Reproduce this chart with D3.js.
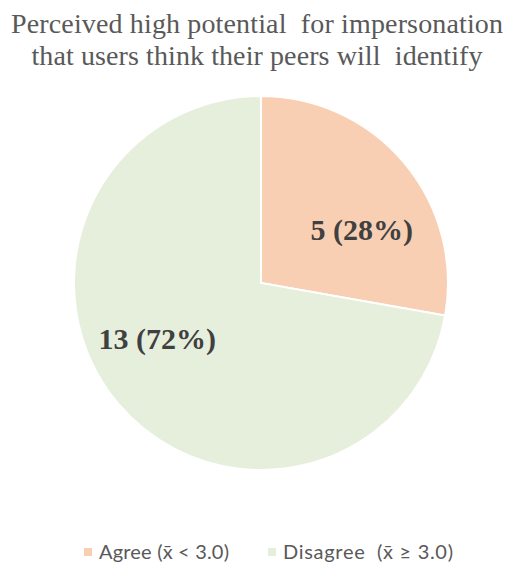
<!DOCTYPE html>
<html>
<head>
<meta charset="utf-8">
<script src="https://cdn.jsdelivr.net/npm/d3@7"></script>
<style>
  html, body { margin: 0; padding: 0; background: #ffffff; }
  svg { display: block; }
  .serif { font-family: "Liberation Serif", "Times New Roman", "DejaVu Serif", serif; }
  .sans { font-family: Lato, "Open Sans", "Liberation Sans", sans-serif; }
</style>
</head>
<body>
<div id="chart"></div>
<script>
// Survey responses split by mean score
const categories = ["Agree (x̄ < 3.0)", "Disagree  (x̄ ≥ 3.0)"];
const counts = [5, 13];
const sliceColors = ["#F8CFB2", "#E6EFDC"];
const titleLines = [
  "Perceived high potential  for impersonation",
  "that users think their peers will  identify"
];

const width = 508, height = 569;
const cx = 261, cy = 283, radius = 187;

const svg = d3.select("#chart").append("svg")
  .attr("width", width)
  .attr("height", height);

// Two-line title, each line stretched to its set width
const titleWidths = [492, 451];
svg.append("g")
  .selectAll("text")
  .data(titleLines)
  .join("text")
  .attr("class", "serif")
  .attr("x", 257)
  .attr("y", (d, i) => 33 + i * 32)
  .attr("text-anchor", "middle")
  .attr("font-size", 28)
  .attr("fill", "#595959")
  .attr("textLength", (d, i) => titleWidths[i])
  .attr("lengthAdjust", "spacing")
  .style("white-space", "pre")
  .text(d => d);

const total = d3.sum(counts);
const data = counts.map((v, i) => ({ name: categories[i], value: v, color: sliceColors[i] }));

const pie = d3.pie().value(d => d.value).sort(null);
const arc = d3.arc().innerRadius(0).outerRadius(radius);

const g = svg.append("g").attr("transform", `translate(${cx},${cy})`);

const arcs = pie(data);

g.selectAll("path")
  .data(arcs)
  .join("path")
  .attr("d", arc)
  .attr("fill", d => d.data.color)
  .attr("stroke", "#ffffff")
  .attr("stroke-width", 2);

// Value labels inside each slice, nudged from the slice centroid
const labelArc = d3.arc().innerRadius(radius * 0.62).outerRadius(radius * 0.62);
const labelOffsets = [[12, 21], [-15, -19]];

g.selectAll("text.value")
  .data(arcs)
  .join("text")
  .attr("class", "value serif")
  .attr("transform", (d, i) => {
    const c = labelArc.centroid(d);
    return `translate(${c[0] + labelOffsets[i][0]},${c[1] + labelOffsets[i][1]})`;
  })
  .attr("text-anchor", "middle")
  .attr("dy", "0.35em")
  .attr("font-weight", "bold")
  .attr("font-size", 30)
  .attr("fill", "#404040")
  .text(d => `${d.data.value} (${Math.round(d.data.value / total * 100)}%)`);

// Legend, centred under the pie
const legendX = [84, 268];
const legendTextWidths = [130, 170];
const legendY = 552;
const legend = svg.append("g")
  .selectAll("g")
  .data(data)
  .join("g")
  .attr("transform", (d, i) => `translate(${legendX[i]},${legendY})`);

legend.append("rect")
  .attr("x", 0)
  .attr("y", -4)
  .attr("width", 8)
  .attr("height", 8)
  .attr("fill", d => d.color);

legend.append("text")
  .attr("class", "sans")
  .attr("x", 15)
  .attr("y", 0)
  .attr("dy", "0.35em")
  .attr("font-size", 20)
  .attr("fill", "#595959")
  .attr("textLength", (d, i) => legendTextWidths[i])
  .attr("lengthAdjust", "spacing")
  .style("white-space", "pre")
  .text(d => d.name);
</script>
</body>
</html>
